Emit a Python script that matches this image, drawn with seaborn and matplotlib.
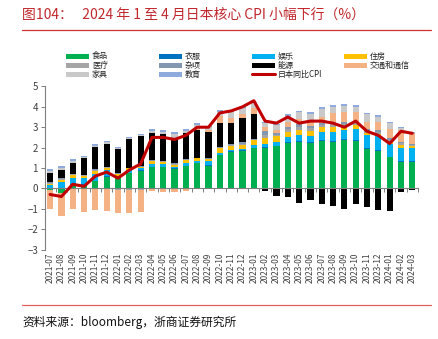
import numpy as np
import seaborn as sns
import matplotlib
matplotlib.use("Agg")
import matplotlib.pyplot as plt
from matplotlib.patches import Patch
from matplotlib.lines import Line2D

months = ["2021-07", "2021-08", "2021-09", "2021-10", "2021-11", "2021-12",
          "2022-01", "2022-02", "2022-03", "2022-04", "2022-05", "2022-06",
          "2022-07", "2022-08", "2022-09", "2022-10", "2022-11", "2022-12",
          "2023-01", "2023-02", "2023-03", "2023-04", "2023-05", "2023-06",
          "2023-07", "2023-08", "2023-09", "2023-10", "2023-11", "2023-12",
          "2024-01", "2024-02", "2024-03"]

# contributions to y/y CPI by category (percentage points)
food = [-0.10, -0.25, 0.18, 0.18, 0.35, 0.55, 0.49, 0.74, 0.86, 1.03, 1.03, 0.95,
        1.09, 1.22, 1.11, 1.63, 1.80, 1.83, 1.96, 2.00, 2.06, 2.24, 2.29, 2.22,
        2.32, 2.29, 2.37, 2.32, 1.93, 1.83, 1.52, 1.31, 1.31]
clothing = [0.03, 0.03, 0.03, 0.03, 0.03, 0.04, 0.03, 0.03, 0.03, 0.03, 0.03, 0.03,
            0.03, 0.03, 0.03, 0.03, 0.03, 0.03, 0.03, 0.03, 0.03, 0.03, 0.03, 0.03,
            0.03, 0.03, 0.03, 0.03, 0.04, 0.04, 0.04, 0.04, 0.04]
leisure = [0.12, 0.28, 0.32, 0.28, 0.33, 0.30, 0.08, 0.11, 0.09, 0.15, 0.14, 0.08,
           0.13, 0.09, 0.18, 0.09, 0.05, 0.05, 0.13, 0.13, 0.20, 0.26, 0.29, 0.32,
           0.43, 0.46, 0.46, 0.54, 0.64, 0.70, 0.61, 0.64, 0.61]
housing = [0.08, 0.12, 0.12, 0.14, 0.12, 0.12, 0.10, 0.10, 0.09, 0.12, 0.11, 0.11,
           0.14, 0.14, 0.12, 0.21, 0.22, 0.20, 0.25, 0.30, 0.29, 0.25, 0.27, 0.26,
           0.24, 0.25, 0.18, 0.21, 0.09, 0.12, 0.10, 0.13, 0.11]
medical = [0.04, 0.03, 0.03, 0.02, 0.05, 0.03, -0.08, -0.08, -0.07, 0.02, 0.02, 0.03,
           0.02, -0.05, -0.04, 0.04, 0.04, 0.07, 0.02, 0.18, 0.06, 0.13, 0.14, 0.12,
           0.11, 0.12, 0.13, 0.10, 0.10, 0.09, 0.12, 0.09, 0.07]
misc = [0.04, 0.03, 0.03, 0.02, 0.05, 0.03, 0.03, 0.02, 0.02, 0.02, 0.02, 0.03,
        0.02, 0.03, 0.03, 0.05, 0.04, 0.08, 0.02, 0.17, 0.06, 0.12, 0.13, 0.10,
        0.09, 0.12, 0.10, 0.07, 0.09, 0.08, 0.10, 0.08, 0.06]
energy = [0.46, 0.41, 0.52, 0.80, 1.11, 1.12, 1.20, 1.40, 1.49, 1.36, 1.30, 1.25,
          1.29, 1.35, 1.30, 1.14, 1.05, 1.17, 1.25, -0.13, -0.38, -0.41, -0.70, -0.57,
          -0.77, -0.87, -1.03, -0.77, -0.93, -1.06, -1.11, -0.18, -0.08]
transport = [-0.92, -1.10, -1.03, -1.15, -1.05, -1.10, -1.11, -1.14, -1.09, -0.12, -0.20, -0.16,
             -0.12, 0.05, 0.10, 0.35, 0.20, 0.24, 0.26, 0.21, 0.18, 0.25, 0.25, 0.25,
             0.29, 0.44, 0.49, 0.49, 0.38, 0.41, 0.40, 0.57, 0.50]
furniture = [0.08, 0.11, 0.09, 0.05, 0.06, 0.06, 0.05, 0.05, 0.04, 0.08, 0.10, 0.17,
             0.09, 0.22, 0.13, 0.20, 0.33, 0.25, 0.25, 0.20, 0.22, 0.27, 0.33, 0.35,
             0.36, 0.29, 0.28, 0.24, 0.36, 0.24, 0.30, 0.08, 0.00]
education = [0.08, 0.10, 0.10, 0.06, 0.06, 0.07, 0.06, 0.05, 0.04, 0.08, 0.10, 0.10,
             0.08, 0.08, 0.08, 0.08, 0.10, 0.08, 0.08, 0.06, 0.08, 0.08, 0.08, 0.08,
             0.10, 0.08, 0.09, 0.08, 0.08, 0.08, 0.08, 0.08, 0.08]
cpi = [-0.3, -0.4, 0.2, 0.1, 0.6, 0.8, 0.5, 0.9, 1.2, 2.5, 2.5, 2.4,
       2.6, 3.0, 3.0, 3.7, 3.8, 4.0, 4.3, 3.3, 3.2, 3.5, 3.2, 3.3,
       3.3, 3.2, 3.0, 3.3, 2.8, 2.6, 2.2, 2.8, 2.7]

series = [
    ("食品", food, "#00B050"),
    ("衣服", clothing, "#0070C0"),
    ("娱乐", leisure, "#00B0F0"),
    ("住房", housing, "#FFC000"),
    ("医疗", medical, "#A5A5A5"),
    ("杂项", misc, "#8497B0"),
    ("能源", energy, "#000000"),
    ("交通和通信", transport, "#F4B183"),
    ("家具", furniture, "#C9C9C9"),
    ("教育", education, "#8FAADC"),
]
line_color = "#C00000"

sns.set_theme(style="white")
plt.rcParams["font.family"] = ["Noto Sans CJK SC", "DejaVu Sans"]

fig = plt.figure(figsize=(4.39, 3.39), dpi=100)
ax = fig.add_axes([0.1025, 0.264, 0.8495, 0.481])

n = len(months)
pos_base = np.zeros(n)
neg_base = np.zeros(n)
for name, vals, col in series:
    v = np.asarray(vals, dtype=float)
    pos = np.where(v > 0, v, 0.0)
    neg = np.where(v < 0, v, 0.0)
    sns.barplot(x=months, y=pos, bottom=pos_base.copy(), color=col, saturation=1,
                width=0.55, errorbar=None, linewidth=0, ax=ax)
    sns.barplot(x=months, y=neg, bottom=neg_base.copy(), color=col, saturation=1,
                width=0.55, errorbar=None, linewidth=0, ax=ax)
    pos_base += pos
    neg_base += neg

sns.lineplot(x=np.arange(n), y=cpi, color=line_color, linewidth=2.2, ax=ax,
             legend=False, zorder=5)

ax.set_xlim(-0.45, n - 0.5)
ax.set_ylim(-3, 5)
ax.set_yticks(range(-3, 6))
ax.set_xlabel("")
ax.set_ylabel("")

for s in ("top", "right"):
    ax.spines[s].set_visible(False)
ax.spines["left"].set_color("#7F7F7F")
ax.spines["left"].set_linewidth(0.8)
ax.spines["bottom"].set_position(("data", 0))
ax.spines["bottom"].set_color("#7F7F7F")
ax.spines["bottom"].set_linewidth(0.8)

ax.set_xticks(np.arange(n))
ax.set_xticklabels(months, rotation=90, fontsize=6, color="#404040")
ax.set_xticks(np.arange(n) + 0.5, minor=True)
ax.tick_params(axis="x", which="major", length=0, pad=46)
ax.tick_params(axis="x", which="minor", length=3, width=0.7, color="#7F7F7F",
               direction="out", bottom=True)
ax.tick_params(axis="y", which="major", length=3, width=0.7, color="#7F7F7F",
               direction="out", left=True, labelsize=7, labelcolor="#404040", pad=2)

# legend laid out as four fixed columns
cols = [
    [0, 4, 8],
    [1, 5, 9],
    [2, 6, None],
    [3, 7],
]
col_x = [66 / 439, 159 / 439, 252 / 439, 344 / 439]
for cx, idxs in zip(col_x, cols):
    handles = []
    labels = []
    for i in idxs:
        if i is None:
            handles.append(Line2D([], [], color=line_color, linewidth=2.2))
            labels.append("日本同比CPI")
        else:
            name, _, col = series[i]
            handles.append(Patch(facecolor=col, edgecolor="none"))
            labels.append(name)
    leg = fig.legend(handles, labels, loc="upper left", bbox_to_anchor=(cx, 1 - 52 / 339),
                     frameon=False, fontsize=5.8, handlelength=2.9, handleheight=0.6,
                     handletextpad=0.3, labelspacing=0.0, borderpad=0, borderaxespad=0)
    for t in leg.get_texts():
        t.set_color("#222222")

fig.text(22 / 439, 1 - 15 / 339, "图104：   2024 年 1 至 4 月日本核心 CPI 小幅下行（%）",
         fontsize=10, color="#C0282D", ha="left", va="center")
fig.add_artist(Line2D([22 / 439, 431 / 439], [1 - 30 / 339, 1 - 30 / 339],
                      color="#D03030", linewidth=0.9, transform=fig.transFigure))
fig.add_artist(Line2D([22 / 439, 431 / 439], [1 - 305 / 339, 1 - 305 / 339],
                      color="#E06060", linewidth=0.9, transform=fig.transFigure))
fig.text(22 / 439, 1 - 322 / 339, "资料来源：bloomberg，浙商证券研究所",
         fontsize=8.5, color="#111111", ha="left", va="center")

fig.savefig("out.png", dpi=100, facecolor="white")
